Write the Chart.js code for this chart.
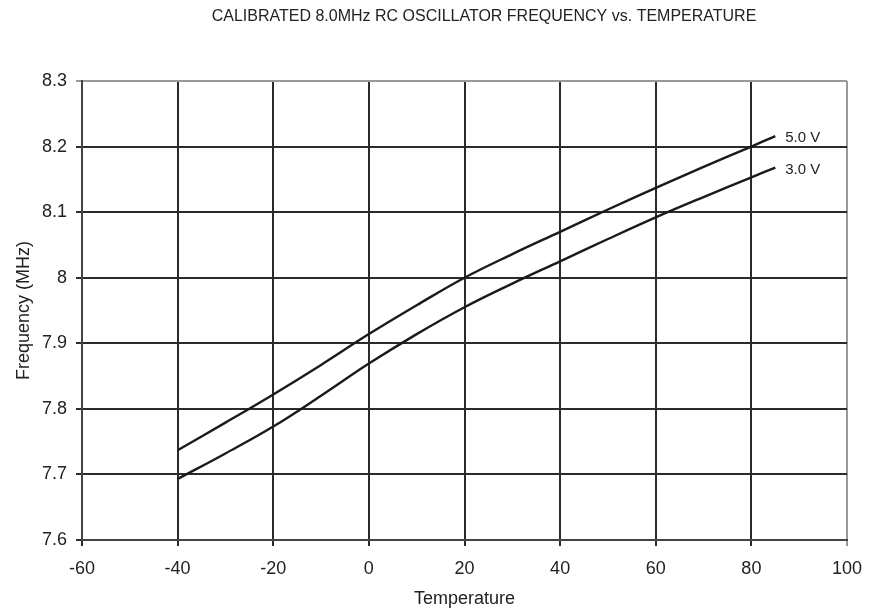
<!DOCTYPE html>
<html>
<head>
<meta charset="utf-8">
<script src="https://cdn.jsdelivr.net/npm/chart.js@4.4.1/dist/chart.umd.min.js"></script>
<style>
  html, body { margin: 0; padding: 0; background: #fff; }
  #wrap { width: 869px; height: 611px; position: relative; }
</style>
</head>
<body>
<div id="wrap"><canvas id="chart" width="869" height="611"></canvas></div>
<script>
// Datos
const temperatures = [-40, -30, -20, -10, 0, 10, 20, 30, 40, 50, 60, 70, 80, 85];
const freq5V = [7.737, 7.779, 7.822, 7.867, 7.914, 7.958, 8.000, 8.036, 8.070, 8.104, 8.137, 8.169, 8.200, 8.216];
const freq3V = [7.693, 7.732, 7.773, 7.820, 7.869, 7.914, 7.955, 7.991, 8.025, 8.059, 8.092, 8.123, 8.153, 8.168];
const seriesLabels = ['5.0 V', '3.0 V'];
const xTicks = [-60, -40, -20, 0, 20, 40, 60, 80, 100];
const yTicks = [7.6, 7.7, 7.8, 7.9, 8, 8.1, 8.2, 8.3];

const chartTitle = 'CALIBRATED 8.0MHz RC OSCILLATOR FREQUENCY vs. TEMPERATURE';
const FONT = '"Liberation Sans", Arial, Helvetica, sans-serif';
const TEXT = '#222';

// Etiquetas al final de cada linea y titulo
const labelsPlugin = {
    id: 'labelsPlugin',
    afterDraw(chart) {
        const ctx = chart.ctx;
        ctx.save();
        ctx.fillStyle = TEXT;
        ctx.font = '15px ' + FONT;
        ctx.textAlign = 'left';
        ctx.textBaseline = 'middle';
        chart.data.datasets.forEach((ds, i) => {
            const meta = chart.getDatasetMeta(i);
            const last = meta.data[meta.data.length - 1];
            ctx.fillText(ds.label, last.x + 10, last.y + 2);
        });
        ctx.font = '16px ' + FONT;
        ctx.textAlign = 'center';
        ctx.fillText(chartTitle, 484, 17);
        ctx.restore();
    }
};

function gridColor(ctx, maxVal) {
    return ctx.tick && ctx.tick.value === maxVal ? '#999' : '#2b2b2b';
}

new Chart(document.getElementById('chart'), {
    type: 'line',
    data: {
        datasets: [
            {
                label: seriesLabels[0],
                data: temperatures.map((t, i) => ({ x: t, y: freq5V[i] })),
                borderColor: '#1a1a1a',
                borderWidth: 2.4,
                pointRadius: 0,
                tension: 0.4
            },
            {
                label: seriesLabels[1],
                data: temperatures.map((t, i) => ({ x: t, y: freq3V[i] })),
                borderColor: '#1a1a1a',
                borderWidth: 2.4,
                pointRadius: 0,
                tension: 0.4
            }
        ]
    },
    options: {
        responsive: false,
        animation: false,
        layout: { padding: { left: 0, top: 81, right: 22, bottom: 0 } },
        plugins: {
            legend: { display: false },
            title: { display: false },
            tooltip: { enabled: false }
        },
        scales: {
            x: {
                type: 'linear',
                min: -60,
                max: 100,
                afterBuildTicks: s => { s.ticks = xTicks.map(v => ({ value: v })); },
                afterFit: s => { s.height = 71; s.paddingLeft = 0; s.paddingRight = 0; },
                grid: {
                    color: c => gridColor(c, 100),
                    lineWidth: 2,
                    tickLength: 6
                },
                border: { color: '#444', width: 2 },
                ticks: {
                    color: TEXT,
                    font: { family: FONT, size: 18 },
                    padding: 12,
                    maxRotation: 0
                },
                title: {
                    display: true,
                    text: 'Temperature',
                    color: TEXT,
                    font: { family: FONT, size: 18 },
                    padding: { top: 0, bottom: 1 }
                }
            },
            y: {
                min: 7.6,
                max: 8.3,
                afterBuildTicks: s => { s.ticks = yTicks.map(v => ({ value: v })); },
                afterFit: s => { s.width = 82; },
                grid: {
                    color: c => gridColor(c, 8.3),
                    lineWidth: 2,
                    tickLength: 6
                },
                border: { color: '#444', width: 2 },
                ticks: {
                    color: TEXT,
                    font: { family: FONT, size: 18 },
                    padding: 9,
                    callback: v => String(Math.round(v * 10) / 10)
                },
                title: {
                    display: true,
                    text: 'Frequency (MHz)',
                    color: TEXT,
                    font: { family: FONT, size: 18 },
                    padding: { top: 13, bottom: 0 }
                }
            }
        }
    },
    plugins: [labelsPlugin]
});
</script>
</body>
</html>
